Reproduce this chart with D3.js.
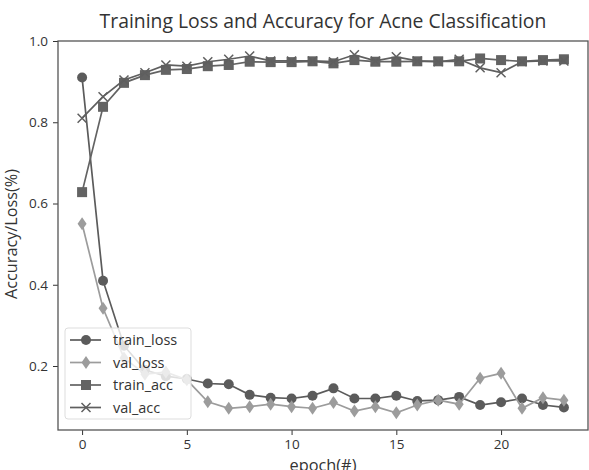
<!DOCTYPE html>
<html>
<head>
<meta charset="utf-8">
<script src="https://cdn.jsdelivr.net/npm/d3@7"></script>
<style>
  body { margin: 0; background: #fff; }
  text { font-family: "Open Sans", sans-serif; fill: #333; }
</style>
</head>
<body>
<svg id="chart" width="589" height="470"></svg>
<script>
var epochs = d3.range(0, 24);
var trainLoss = [0.91, 0.41, 0.25, 0.19, 0.175, 0.168, 0.157, 0.155, 0.129, 0.122, 0.12, 0.127,
  0.145, 0.12, 0.12, 0.127, 0.114, 0.116, 0.124, 0.104, 0.111, 0.12, 0.104, 0.098];
var valLoss = [0.55, 0.342, 0.22, 0.18, 0.185, 0.166, 0.112, 0.096, 0.1, 0.106, 0.1, 0.096,
  0.11, 0.089, 0.1, 0.085, 0.104, 0.116, 0.106, 0.17, 0.182, 0.096, 0.122, 0.116];
var trainAcc = [0.628, 0.838, 0.897, 0.916, 0.929, 0.931, 0.938, 0.941, 0.949, 0.948, 0.948, 0.95,
  0.945, 0.953, 0.949, 0.949, 0.95, 0.95, 0.95, 0.957, 0.953, 0.95, 0.953, 0.955];
var valAcc = [0.81, 0.863, 0.904, 0.922, 0.941, 0.938, 0.949, 0.955, 0.963, 0.951, 0.951, 0.951,
  0.949, 0.966, 0.951, 0.961, 0.951, 0.949, 0.955, 0.934, 0.922, 0.949, 0.951, 0.951];
var seriesNames = ["train_loss", "val_loss", "train_acc", "val_acc"];
var xTicks = [0, 5, 10, 15, 20];
var yTicks = [0.2, 0.4, 0.6, 0.8, 1.0];

var series = [
  {name: seriesNames[0], values: trainLoss, color: "#5b5b5b", marker: "circle"},
  {name: seriesNames[1], values: valLoss, color: "#9c9c9c", marker: "diamond"},
  {name: seriesNames[2], values: trainAcc, color: "#636363", marker: "square"},
  {name: seriesNames[3], values: valAcc, color: "#5f5f5f", marker: "x"}
];

var svg = d3.select("#chart");
var pLeft = 58, pRight = 588, pTop = 41, pBottom = 430;

var x = d3.scaleLinear().domain([-1.15, 24.15]).range([pLeft, pRight]);
var y = d3.scaleLinear().domain([0.0425, 1.0]).range([pBottom, pTop]);

// axes
svg.append("g")
  .attr("transform", "translate(0," + pBottom + ")")
  .call(d3.axisBottom(x).tickValues(xTicks).tickSize(5).tickPadding(4).tickFormat(d3.format("d")))
  .call(g => g.select(".domain").remove())
  .selectAll("text").style("font-size", "13.5px").style("font-family", "Open Sans").attr("fill", "#333");
svg.append("g")
  .attr("transform", "translate(" + pLeft + ",0)")
  .call(d3.axisLeft(y).tickValues(yTicks).tickSize(5).tickPadding(5).tickFormat(d3.format(".1f")))
  .call(g => g.select(".domain").remove())
  .selectAll("text").style("font-size", "13.5px").style("font-family", "Open Sans").attr("fill", "#333");
svg.selectAll(".tick line").attr("stroke", "#333");

svg.append("rect")
  .attr("x", pLeft).attr("y", pTop)
  .attr("width", pRight - pLeft).attr("height", pBottom - pTop)
  .attr("fill", "none").attr("stroke", "#555").attr("stroke-width", 1.3);

function drawMarker(sel, type, color) {
  if (type == "circle") {
    sel.append("circle").attr("r", 5).attr("fill", color);
  } else if (type == "diamond") {
    sel.append("path").attr("d", "M0,-6.5L4.5,0L0,6.5L-4.5,0Z").attr("fill", color);
  } else if (type == "square") {
    sel.append("rect").attr("x", -5).attr("y", -5).attr("width", 10).attr("height", 10).attr("fill", color);
  } else {
    sel.append("path").attr("d", "M-4.5,-4.5L4.5,4.5M-4.5,4.5L4.5,-4.5").attr("stroke", color).attr("stroke-width", 1.5);
  }
}

var line = d3.line().x((d, i) => x(epochs[i])).y(d => y(d));

series.forEach(function(s) {
  svg.append("path")
    .attr("d", line(s.values))
    .attr("fill", "none")
    .attr("stroke", s.color)
    .attr("stroke-width", 1.7);
  svg.append("g").selectAll("g")
    .data(s.values)
    .enter()
    .append("g")
    .attr("transform", (d, i) => "translate(" + x(epochs[i]) + "," + y(d) + ")")
    .each(function() { drawMarker(d3.select(this), s.marker, s.color); });
});

// legend
var lg = svg.append("g").attr("transform", "translate(65,328)");
lg.append("rect")
  .attr("width", 126).attr("height", 91).attr("rx", 3)
  .attr("fill", "#fff").attr("fill-opacity", 0.8)
  .attr("stroke", "#ddd");
var items = lg.selectAll("g.item")
  .data(series)
  .enter()
  .append("g")
  .attr("class", "item")
  .attr("transform", (d, i) => "translate(0," + (12 + i * 22.5) + ")");
items.append("line")
  .attr("x1", 5).attr("x2", 36)
  .attr("stroke", d => d.color).attr("stroke-width", 1.7);
items.append("g")
  .attr("transform", "translate(21,0)")
  .each(function(d) { drawMarker(d3.select(this), d.marker, d.color); });
items.append("text")
  .attr("x", 48).attr("y", 5)
  .style("font-size", "14.5px")
  .text(d => d.name);

// fit a label to the width it has in the reference
function fit(t, w) {
  var len = t.node().getComputedTextLength();
  var fs = parseFloat(t.style("font-size"));
  t.style("font-size", (fs * w / len) + "px");
}

var title = svg.append("text")
  .attr("x", 323).attr("y", 28)
  .attr("text-anchor", "middle")
  .style("font-size", "18px")
  .text("Training Loss and Accuracy for Acne Classification");
fit(title, 447);
var xl = svg.append("text")
  .attr("x", 323).attr("y", 471)
  .attr("text-anchor", "middle")
  .style("font-size", "14px")
  .text("epoch(#)");
fit(xl, 67);
var yl = svg.append("text")
  .attr("transform", "translate(17,234) rotate(-90)")
  .attr("text-anchor", "middle")
  .style("font-size", "14px")
  .text("Accuracy/Loss(%)");
fit(yl, 130);
</script>
</body>
</html>
